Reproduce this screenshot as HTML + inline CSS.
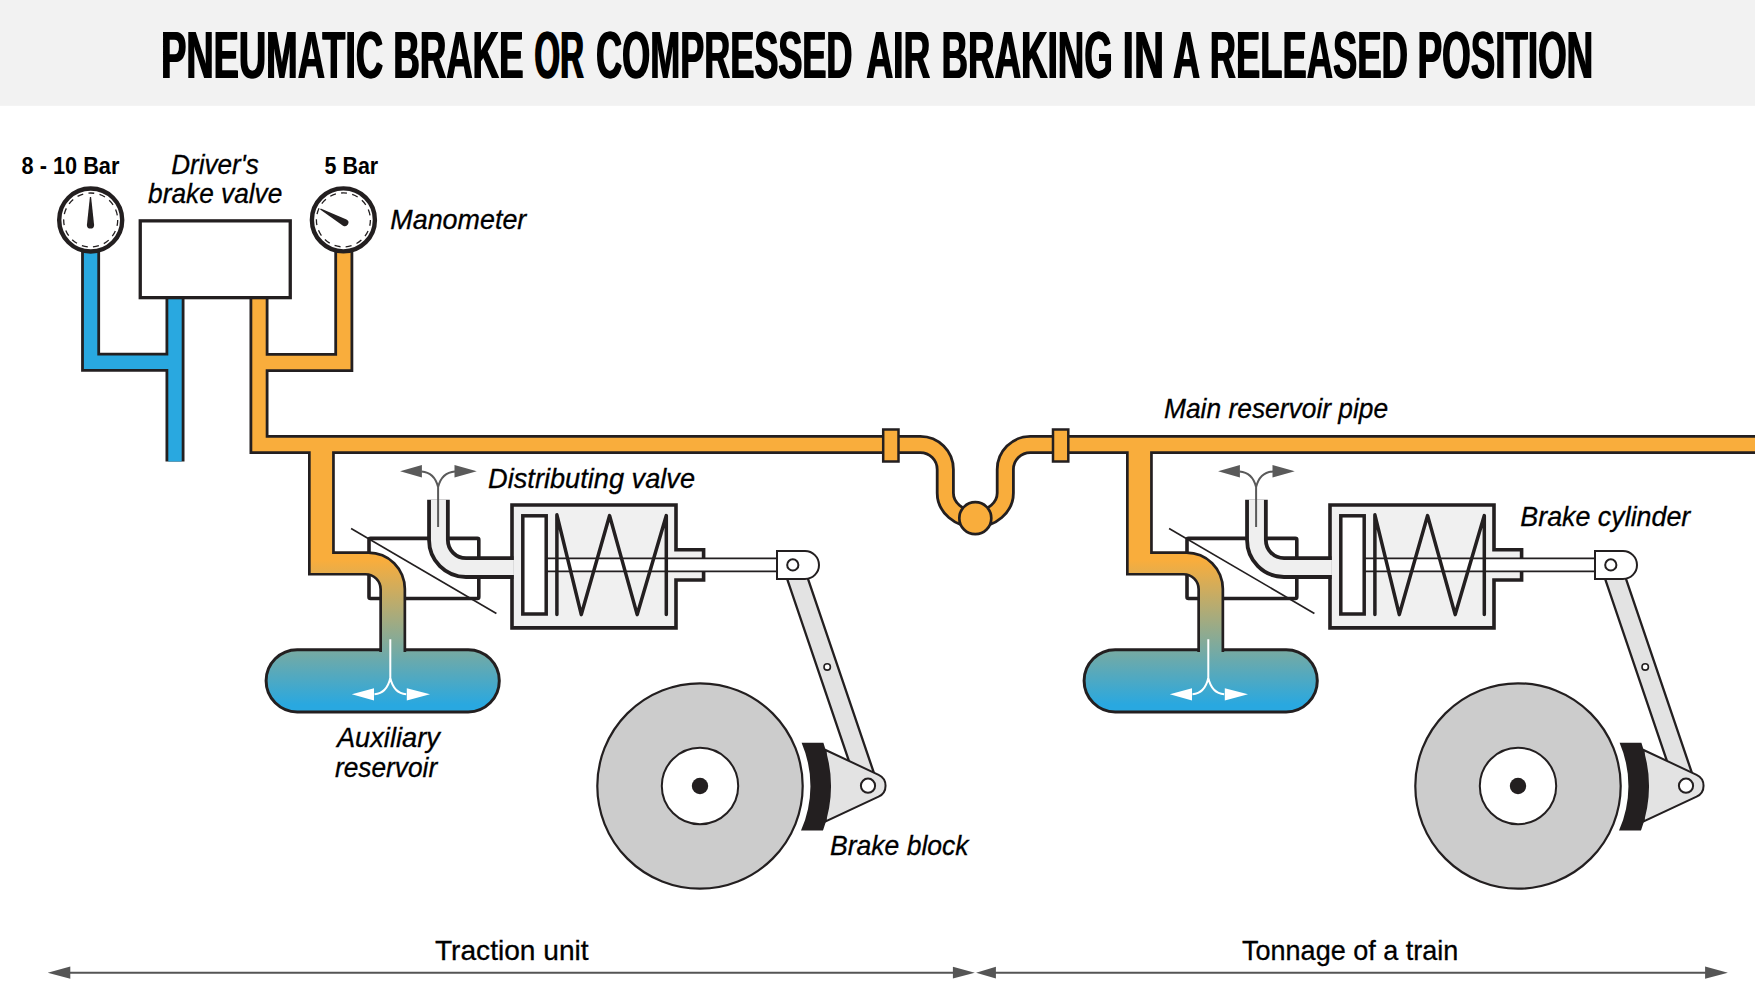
<!DOCTYPE html>
<html><head><meta charset="utf-8"><title>Pneumatic brake</title>
<style>
html,body{margin:0;padding:0;background:#fff;width:1755px;height:997px;overflow:hidden}
svg{display:block}
text{font-family:"Liberation Sans",sans-serif;fill:#000}
.it{font-style:italic;font-size:28px;stroke:#000;stroke-width:0.3px}
.bd{font-weight:bold;font-size:24px}
.rg{font-size:28px;stroke:#000;stroke-width:0.3px}
.ttl text{font-weight:bold;font-size:67px;fill:#000}
</style></head><body>
<svg width="1755" height="997" viewBox="0 0 1755 997">
<defs>
<linearGradient id="gr" gradientUnits="userSpaceOnUse" x1="0" y1="560" x2="0" y2="705">
<stop offset="0" stop-color="#f9ad3c"/>
<stop offset="1" stop-color="#29a8e0"/>
</linearGradient>
<!-- unit layers -->
<g id="uA">
  <!-- valve body -->
  <rect x="369" y="538.4" width="109.8" height="60.1" rx="1.5" fill="#fff" stroke="#231f20" stroke-width="3.6"/>
  <line x1="351.1" y1="528.5" x2="496.4" y2="613.5" stroke="#231f20" stroke-width="1.6"/>
  <!-- reservoir -->
  <rect x="266.1" y="649.7" width="233.2" height="62.2" rx="31.1" fill="url(#gr)" stroke="#231f20" stroke-width="3"/>
</g>
<g id="uB">
  <path d="M308,444 V575.6 H365.6 A13.7,13.7 0 0 1 379.3,589.3 V652 H406.2 V589 A37.8,37.8 0 0 0 368.4,551.2 H334.8 V444 Z" fill="#231f20"/>
</g>
<g id="uC">
  <path d="M310.7,444 V572.9 H365.6 A16.4,16.4 0 0 1 382,589.3 V653 H403.5 V589 A35.1,35.1 0 0 0 368.4,553.9 H332.1 V444 Z" fill="url(#gr)"/>
  <!-- white arrows in reservoir -->
  <path d="M390.3,639.2 V678 M390.3,678 Q386.8,693.3 374.5,694.2 M390.3,678 Q393.8,693.3 406.2,694.2" fill="none" stroke="#fff" stroke-width="2"/>
  <path d="M351.8,694.3 L374,688.2 L374,700.6 Z M430,694.3 L406.8,688.2 L406.8,700.6 Z" fill="#fff"/>
</g>
<g id="uD">
  <!-- cylinder body -->
  <path d="M676,549.7 H703.6 V580 H676 V627.9 H512 V505 H676 Z" fill="#f0f0f0" stroke="#231f20" stroke-width="3.6"/>
  <!-- gray exhaust pipe -->
  <path d="M438.45,499.8 V540 A27.6,27.6 0 0 0 466,567.6 H513.5" fill="none" stroke="#231f20" stroke-width="22.6"/>
  <path d="M438.45,499.8 V540 A27.6,27.6 0 0 0 466,567.6 H513.9" fill="none" stroke="#efefef" stroke-width="15"/>
  <!-- exhaust arrow -->
  <path d="M438.1,527 V487 M438.1,487 Q434.5,472.3 421.5,471.4 M438.1,487 Q441.7,472.3 455,471.4" fill="none" stroke="#5a5a5a" stroke-width="2"/>
  <path d="M400.1,471.3 L421.9,465 L421.9,477.5 Z M476.8,471.3 L454.5,465 L454.5,477.5 Z" fill="#5a5a5a"/>
  <!-- rod -->
  <rect x="547" y="558.4" width="231" height="13" fill="#fff"/>
  <path d="M547,558.4 H778 M547,571.4 H778" stroke="#231f20" stroke-width="1.8"/>
  <!-- piston -->
  <rect x="522.8" y="515.8" width="23.4" height="98.2" fill="#fff" stroke="#231f20" stroke-width="3.5"/>
  <!-- spring -->
  <polyline points="556.9,614.6 556.9,514.8 581.3,614.6 609.6,515.6 637.2,614.6 666.3,515.6 666.3,614.6" fill="none" stroke="#231f20" stroke-width="3.5" stroke-linecap="round" stroke-linejoin="round"/>
  <!-- lever -->
  <rect x="0" y="-9.9" width="233.2" height="19.8" transform="translate(792.8,564.9) rotate(71.24)" fill="#e3e3e3" stroke="#231f20" stroke-width="2.3"/>
  <circle cx="827.2" cy="666.9" r="3.2" fill="#fff" stroke="#231f20" stroke-width="1.6"/>
  <!-- clevis -->
  <path d="M777,551 H805 A14,14 0 0 1 805,579 H777 Z" fill="#fff" stroke="#231f20" stroke-width="2"/>
  <circle cx="792.8" cy="564.9" r="5.6" fill="#fff" stroke="#231f20" stroke-width="2"/>
  <!-- wheel -->
  <circle cx="700" cy="786" r="102.7" fill="#cccccc" stroke="#231f20" stroke-width="2.2"/>
  <circle cx="700" cy="786" r="38.2" fill="#fff" stroke="#231f20" stroke-width="2"/>
  <circle cx="700" cy="786" r="8.2" fill="#231f20"/>
  <!-- bracket triangle -->
  <path d="M825.6,750 L878.6,774.8 A12.1,12.1 0 0 1 878.6,796.7 L825.6,821.5 Z" fill="#e3e3e3" stroke="#231f20" stroke-width="2"/>
  <circle cx="868" cy="785.7" r="7.1" fill="#fff" stroke="#231f20" stroke-width="2"/>
  <!-- brake block -->
  <path d="M801.6,742.7 L823.4,742.7 A130.8,130.8 0 0 1 823,830.6 L801,830.6 A110.4,110.4 0 0 0 801.6,742.7 Z" fill="#231f20"/>
</g>
<path id="needle" d="M-0.6,-28.4 L0.6,-28.4 L3.6,-0.5 A3.6,3.6 0 0 1 -3.6,-0.5 Z" fill="#231f20"/>
</defs>

<!-- header -->
<rect x="0" y="0" width="1755" height="105.8" fill="#f2f2f2"/>
<g class="ttl"><g id="ttlw" transform="translate(-0.6,0)">
<text transform="translate(161.04,78.3) scale(0.5651,1)">PNEUMATIC</text>
<text transform="translate(393.42,78.3) scale(0.5461,1)">BRAKE</text>
<text transform="translate(534.42,78.3) scale(0.4937,1)">OR</text>
<text transform="translate(596.19,78.3) scale(0.5378,1)">COMPRESSED</text>
<text transform="translate(866.29,78.3) scale(0.5554,1)">AIR</text>
<text transform="translate(941.51,78.3) scale(0.5480,1)">BRAKING</text>
<text transform="translate(1122.52,78.3) scale(0.6190,1)">IN</text>
<text transform="translate(1172.98,78.3) scale(0.5614,1)">A</text>
<text transform="translate(1209.73,78.3) scale(0.5430,1)">RELEASED</text>
<text transform="translate(1417.71,78.3) scale(0.5481,1)">POSITION</text>
</g><use href="#ttlw" transform="translate(1.2,0)"/></g>

<!-- unit layer A -->
<use href="#uA"/>
<use href="#uA" transform="translate(818,0)"/>

<!-- black under-layer -->
<use href="#uB"/>
<use href="#uB" transform="translate(818,0)"/>
<g fill="none" stroke="#231f20" stroke-width="19">
  <path d="M259,297 V444.5 H920.3 A25,25 0 0 1 945.3,469.5 V493 A30,26 0 0 0 1005.3,493 V469.5 A25,25 0 0 1 1030.3,444.5 H1760"/>
  <path d="M259,362.5 H343.8 V250"/>
  <path d="M90.6,250 V362.3 H175"/>
  <path d="M175,297 V461.5"/>
</g>
<!-- colored layer -->
<g fill="none" stroke-width="13.4">
  <path stroke="#f9ad3c" d="M259,297 V444.5 H920.3 A25,25 0 0 1 945.3,469.5 V493 A30,26 0 0 0 1005.3,493 V469.5 A25,25 0 0 1 1030.3,444.5 H1760"/>
  <path stroke="#f9ad3c" d="M259,362.5 H343.8 V250"/>
  <path stroke="#29a8e0" d="M90.6,250 V362.3 H175"/>
  <path stroke="#29a8e0" d="M175,297 V461.5"/>
</g>
<use href="#uC"/>
<use href="#uC" transform="translate(818,0)"/>

<!-- couplings and drain ball -->
<rect x="883.2" y="429.5" width="15.3" height="32" fill="#f9ad3c" stroke="#231f20" stroke-width="2.5"/>
<rect x="1053" y="429.5" width="15.3" height="32" fill="#f9ad3c" stroke="#231f20" stroke-width="2.5"/>
<circle cx="975.3" cy="518.2" r="16" fill="#f9ad3c" stroke="#231f20" stroke-width="2.7"/>

<!-- driver's brake valve box -->
<rect x="140.25" y="220.85" width="150" height="76.8" fill="#fff" stroke="#231f20" stroke-width="3.3"/>

<!-- gauges -->
<circle cx="90.7" cy="220" r="31.5" fill="#fff" stroke="#231f20" stroke-width="4.4"/>
<circle cx="90.7" cy="220" r="27" fill="none" stroke="#231f20" stroke-width="1.3" stroke-dasharray="6 5.31"/>
<use href="#needle" transform="translate(90.5,225.4)"/>
<circle cx="343.4" cy="219.9" r="31.5" fill="#fff" stroke="#231f20" stroke-width="4.4"/>
<circle cx="343.4" cy="219.9" r="27" fill="none" stroke="#231f20" stroke-width="1.3" stroke-dasharray="6 5.31"/>
<use href="#needle" transform="translate(345.2,222.8) rotate(-60.7)"/>

<!-- unit layer D -->
<use href="#uD"/>
<use href="#uD" transform="translate(818,0)"/>

<!-- dimension arrows -->
<path d="M60,972.7 H964 M986,972.7 H1716" stroke="#555" stroke-width="2"/>
<path d="M47.7,972.7 L70.3,966.6 L70.3,978.8 Z M974.8,972.7 L952.9,966.8 L952.9,978.5 Z M976.1,972.7 L995.9,966.8 L995.9,978.5 Z M1727.9,972.7 L1705.1,966.6 L1705.1,978.8 Z" fill="#555"/>

<!-- labels -->
<text class="bd" x="21.6" y="174.1" textLength="97.8" lengthAdjust="spacingAndGlyphs">8 - 10 Bar</text>
<text class="bd" x="324.6" y="173.7" textLength="53.6" lengthAdjust="spacingAndGlyphs">5 Bar</text>
<text class="it" x="171.2" y="173.6" textLength="87.6" lengthAdjust="spacingAndGlyphs">Driver's</text>
<text class="it" x="148.1" y="202.7" textLength="134.2" lengthAdjust="spacingAndGlyphs">brake valve</text>
<text class="it" x="390.3" y="228.7" textLength="136" lengthAdjust="spacingAndGlyphs">Manometer</text>
<text class="it" x="1164" y="417.8" textLength="224.2" lengthAdjust="spacingAndGlyphs">Main reservoir pipe</text>
<text class="it" x="488.1" y="487.5" textLength="206.9" lengthAdjust="spacingAndGlyphs">Distributing valve</text>
<text class="it" x="1520.3" y="525.9" textLength="170" lengthAdjust="spacingAndGlyphs">Brake cylinder</text>
<text class="it" x="336.9" y="746.9" textLength="103" lengthAdjust="spacingAndGlyphs">Auxiliary</text>
<text class="it" x="335" y="777" textLength="102.2" lengthAdjust="spacingAndGlyphs">reservoir</text>
<text class="it" x="830" y="854.8" textLength="138.6" lengthAdjust="spacingAndGlyphs">Brake block</text>
<text class="rg" x="434.9" y="959.9" textLength="153.8" lengthAdjust="spacingAndGlyphs">Traction unit</text>
<text class="rg" x="1242" y="959.9" textLength="216.4" lengthAdjust="spacingAndGlyphs">Tonnage of a train</text>
</svg>
</body></html>
